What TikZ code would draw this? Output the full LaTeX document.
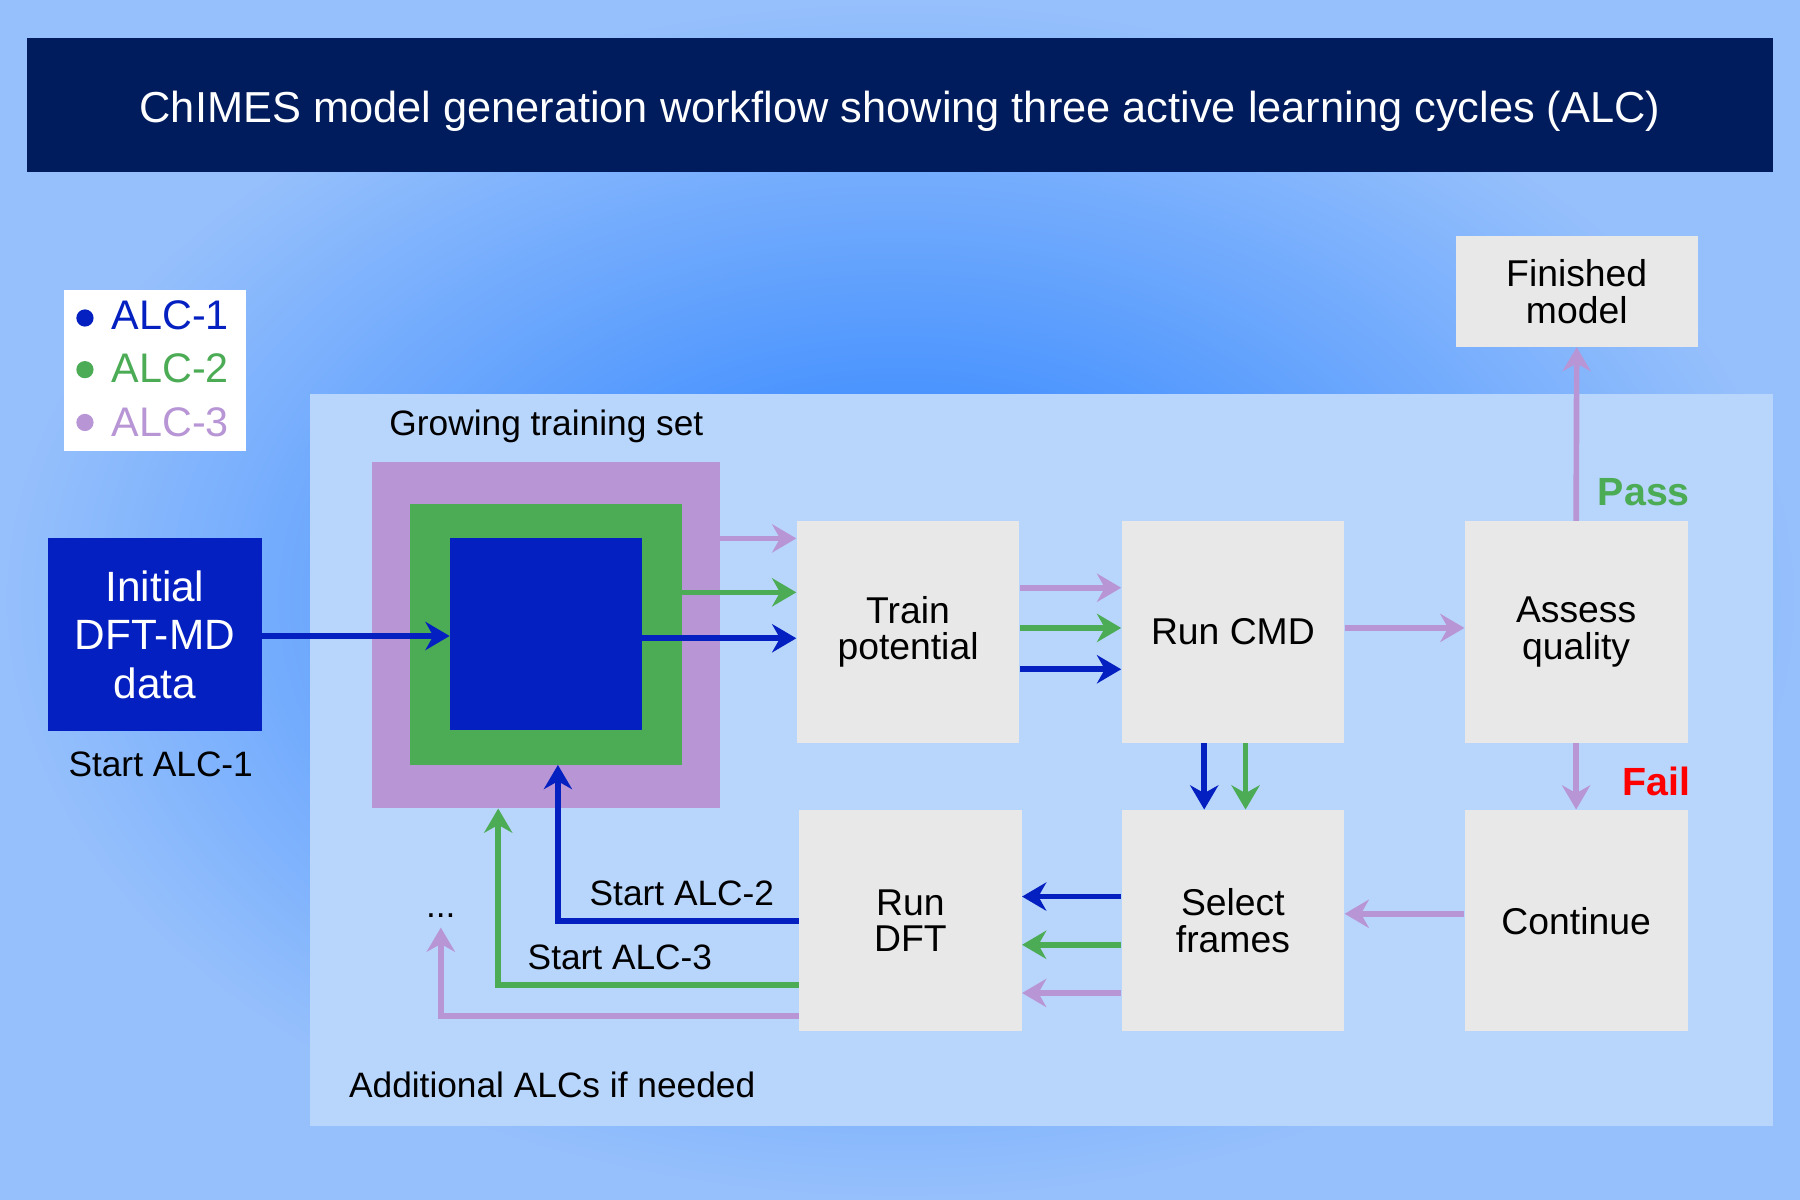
\documentclass[tikz,border=0pt]{standalone}
\usepackage{fontspec}
\setmainfont{Liberation Sans}
\usetikzlibrary{arrows.meta}
\definecolor{navy}{RGB}{0,28,92}
\definecolor{ablue}{RGB}{5,32,192}
\definecolor{agreen}{RGB}{76,172,86}
\definecolor{alil}{RGB}{184,150,214}
\definecolor{panel}{RGB}{184,213,251}
\definecolor{boxg}{RGB}{232,232,232}
\tikzset{
 box/.style={fill=boxg,draw=none,align=center,font=\fontsize{18.5}{18}\selectfont,minimum width=3.88cm,minimum height=3.86cm,inner sep=0pt},
 ar/.style={line width=2.8pt,-{Stealth[length=12pt,width=14pt]}},
 lbl/.style={font=\fontsize{17.5}{18}\selectfont,inner sep=0pt}
}
\begin{document}
\begin{tikzpicture}[x=0.02cm,y=-0.02cm]
\useasboundingbox (0,0) rectangle (1568,1045);
\shade[inner color={rgb,255:red,35;green,125;blue,255},outer color={rgb,255:red,150;green,192;blue,252}] (0,0) rectangle (1568,1045);
\node[fill=navy,minimum width=30.44cm,minimum height=2.34cm,inner sep=0pt] (title) at (784,91.5) {};
\node[text=white,font=\fontsize{21.5}{22}\selectfont,inner sep=0pt] (titletext) at (784,97) {ChIMES model generation workflow showing three active learning cycles (ALC)};
% legend
\node[fill=white,minimum width=3.16cm,minimum height=2.8cm,inner sep=0pt] (leg) at (135,323) {};
\fill[ablue] (74,277) circle (7.5);
\fill[agreen] (74,322) circle (7.5);
\fill[alil] (74,368) circle (7.5);
\node[lbl,anchor=west,text=ablue,font=\fontsize{20.5}{20}\selectfont] (l1) at (97,275) {ALC-1};
\node[lbl,anchor=west,text=agreen,font=\fontsize{20.5}{20}\selectfont] (l2) at (97,321) {ALC-2};
\node[lbl,anchor=west,text=alil,font=\fontsize{20.5}{20}\selectfont] (l3) at (97,368) {ALC-3};
% panel
\node[fill=panel,minimum width=25.5cm,minimum height=12.76cm,inner sep=0pt] (panel) at (907.5,662) {};
\node[lbl] (gts) at (476,371) {Growing training set};
\node[fill=alil,minimum width=6.06cm,minimum height=6.04cm,inner sep=0pt] (sq3) at (475.5,553) {};
\node[fill=agreen,minimum width=4.74cm,minimum height=4.54cm,inner sep=0pt] (sq2) at (475.5,552.5) {};
\node[fill=ablue,minimum width=3.34cm,minimum height=3.34cm,inner sep=0pt] (sq1) at (475.5,552.5) {};
% initial
\node[fill=ablue,text=white,align=center,minimum width=3.72cm,minimum height=3.36cm,inner sep=0pt,font=\fontsize{21}{24}\selectfont] (init) at (135,553) {Initial\\DFT-MD\\data};
\node[lbl] (s1) at (140,666) {Start ALC-1};
% boxes
\node[box] (tp) at (791,550.5) {Train\\potential};
\node[box] (cmd) at (1074,550.5) {Run CMD};
\node[box] (aq) at (1373,550.5) {Assess\\quality};
\node[box,minimum width=4.22cm,minimum height=1.92cm] (fm) at (1373.5,254) {Finished\\model};
\node[box] (dft) at (793,802) {Run\\DFT};
\node[box] (sf) at (1074,802) {Select\\frames};
\node[box] (cont) at (1373,802) {Continue};
% arrows
\draw[ar,ablue] (init.east |- 0,554) -- (sq1.west |- 0,554);
\draw[ar,alil] (sq3.east |- 0,469) -- (tp.west |- 0,469);
\draw[ar,agreen] (sq2.east |- 0,516) -- (tp.west |- 0,516);
\draw[ar,ablue] (sq1.east |- 0,556) -- (tp.west |- 0,556);
\draw[ar,alil] (tp.east |- 0,512) -- (cmd.west |- 0,512);
\draw[ar,agreen] (tp.east |- 0,547) -- (cmd.west |- 0,547);
\draw[ar,ablue] (tp.east |- 0,583) -- (cmd.west |- 0,583);
\draw[ar,alil] (cmd.east |- 0,547) -- (aq.west |- 0,547);
\draw[ar,alil] (aq.north) -- (fm.south);
\node[font=\bfseries\fontsize{19.5}{20}\selectfont,text=agreen] (pass) at (1432,429) {Pass};
\draw[ar,alil] (aq.south) -- (cont.north);
\node[font=\bfseries\fontsize{19.5}{20}\selectfont,text=red] (fail) at (1443,681) {Fail};
\draw[ar,ablue] (cmd.south -| 1049,0) -- (sf.north -| 1049,0);
\draw[ar,agreen] (cmd.south -| 1085,0) -- (sf.north -| 1085,0);
\draw[ar,alil] (cont.west |- 0,796) -- (sf.east |- 0,796);
\draw[ar,ablue] (sf.west |- 0,781) -- (dft.east |- 0,781);
\draw[ar,agreen] (sf.west |- 0,823) -- (dft.east |- 0,823);
\draw[ar,alil] (sf.west |- 0,865) -- (dft.east |- 0,865);
\draw[ar,ablue] (dft.west |- 0,802) -- (486,802) -- (sq2.south -| 486,0);
\draw[ar,agreen] (dft.west |- 0,858) -- (434,858) -- (sq3.south -| 434,0);
\coordinate (dots) at (384,808);
\draw[ar,alil] (dft.west |- 0,885) -- (384,885) -- (dots);
\node[lbl] (dd) at (384,798) {...};
\node[lbl] (s2) at (594,778) {Start ALC-2};
\node[lbl] (s3) at (540,834) {Start ALC-3};
\node[lbl] (add) at (481,945) {Additional ALCs if needed};
\end{tikzpicture}
\end{document}
